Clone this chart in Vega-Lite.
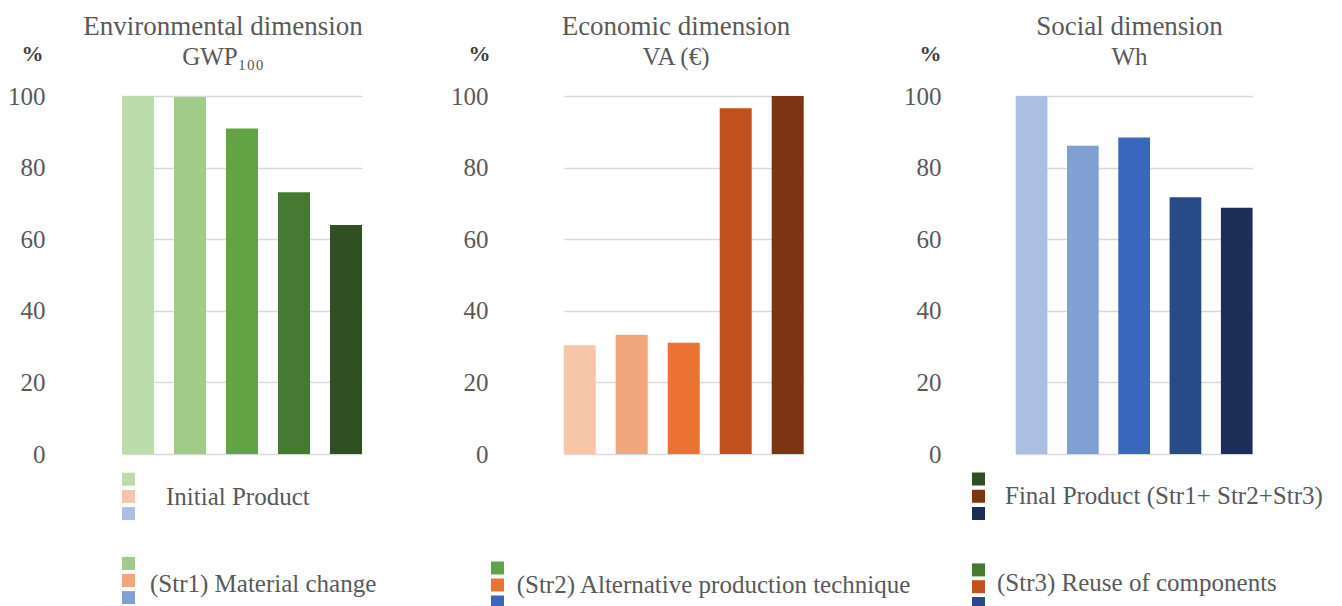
{
  "$schema": "https://vega.github.io/schema/vega-lite/v6.json",
  "background": "#ffffff",
  "padding": {"left": 7, "top": 13, "right": 0, "bottom": 0},
  "bounds": "flush",
  "spacing": 77,
  "config": {
    "view": {"stroke": null},
    "font": "'Liberation Serif', 'Times New Roman', Times, 'DejaVu Serif', serif",
    "axisY": {
      "grid": true,
      "gridColor": "#d9d9d9",
      "gridWidth": 1.5,
      "domain": false,
      "ticks": false,
      "tickSize": 0,
      "labelPadding": 19,
      "labelFontSize": 25,
      "labelFont": "'Liberation Serif', 'Times New Roman', Times, 'DejaVu Serif', serif",
      "labelColor": "#595959",
      "titleAngle": 0,
      "titleX": -32,
      "titleY": -43,
      "titleAlign": "center",
      "titleBaseline": "middle",
      "titleFontSize": 22,
      "titleFontWeight": "bold",
      "titleColor": "#404040",
      "titleFont": "'Liberation Serif', 'Times New Roman', Times, 'DejaVu Serif', serif"
    },
    "title": {
      "font": "'Liberation Serif', 'Times New Roman', Times, 'DejaVu Serif', serif",
      "fontSize": 27,
      "fontWeight": "normal",
      "color": "#595959",
      "subtitleFont": "'Liberation Serif', 'Times New Roman', Times, 'DejaVu Serif', serif",
      "subtitleFontSize": 25,
      "subtitleColor": "#595959",
      "subtitlePadding": 4,
      "anchor": "middle",
      "frame": "group",
      "offset": -29
    },
    "text": {"font": "'Liberation Serif', 'Times New Roman', Times, 'DejaVu Serif', serif", "fontSize": 25, "color": "#595959", "align": "left", "baseline": "middle"},
    "square": {"size": 169, "opacity": 1}
  },
  "datasets": {
    "scores": [
      {"dimension": "Environmental", "scenario": "Initial Product", "value": 100},
      {"dimension": "Environmental", "scenario": "(Str1) Material change", "value": 99.7},
      {"dimension": "Environmental", "scenario": "(Str2) Alternative production technique", "value": 90.9},
      {"dimension": "Environmental", "scenario": "(Str3) Reuse of components", "value": 73.1},
      {"dimension": "Environmental", "scenario": "Final Product (Str1+ Str2+Str3)", "value": 64.0},
      {"dimension": "Economic", "scenario": "Initial Product", "value": 30.4},
      {"dimension": "Economic", "scenario": "(Str1) Material change", "value": 33.3},
      {"dimension": "Economic", "scenario": "(Str2) Alternative production technique", "value": 31.1},
      {"dimension": "Economic", "scenario": "(Str3) Reuse of components", "value": 96.6},
      {"dimension": "Economic", "scenario": "Final Product (Str1+ Str2+Str3)", "value": 100},
      {"dimension": "Social", "scenario": "Initial Product", "value": 100},
      {"dimension": "Social", "scenario": "(Str1) Material change", "value": 86.1},
      {"dimension": "Social", "scenario": "(Str2) Alternative production technique", "value": 88.4},
      {"dimension": "Social", "scenario": "(Str3) Reuse of components", "value": 71.7},
      {"dimension": "Social", "scenario": "Final Product (Str1+ Str2+Str3)", "value": 68.8}
    ]
  },
  "data": {"name": "scores"},
  "hconcat": [
    {
      "width": 366,
      "height": 515,
      "title": {"text": "Environmental dimension", "subtitle": "GWP₁₀₀", "dx": -24},
      "layer": [
        {
          "transform": [{"filter": {"field": "dimension", "equal": "Environmental"}}],
          "mark": "bar",
          "encoding": {
            "x": {"field": "scenario", "type": "nominal", "axis": null,
              "scale": {"domain": ["Initial Product", "(Str1) Material change", "(Str2) Alternative production technique", "(Str3) Reuse of components", "Final Product (Str1+ Str2+Str3)"],
                "range": [58, 298], "paddingInner": 0.3846, "paddingOuter": 0, "round": false}},
            "y": {"field": "value", "type": "quantitative",
              "scale": {"domain": [0, 100], "range": [358, 0], "nice": false},
              "axis": {"title": "%", "values": [0, 20, 40, 60, 80, 100]}},
            "color": {"field": "scenario", "type": "nominal", "legend": null,
              "scale": {"domain": ["Initial Product", "(Str1) Material change", "(Str2) Alternative production technique", "(Str3) Reuse of components", "Final Product (Str1+ Str2+Str3)"],
                "range": ["#bddcab", "#a0cb88", "#62a346", "#467a32", "#305024"]}}
          }
        },
        {
          "transform": [{"filter": {"field": "scenario", "equal": "Initial Product"}}],
          "mark": "square",
          "encoding": {
            "x": {"field": "scenario", "type": "nominal", "axis": null, "scale": {"type": "point", "range": [64.5, 64.5]}},
            "y": {"field": "dimension", "type": "nominal", "axis": null,
              "scale": {"type": "point", "domain": ["Environmental", "Economic", "Social"], "range": [383.2, 417.6], "padding": 0}},
            "color": {"field": "dimension", "type": "nominal", "legend": null,
              "scale": {"domain": ["Environmental", "Economic", "Social"], "range": ["#bddcab", "#f7c6a8", "#aabfe2"]}}
          }
        },
        {
          "transform": [{"filter": {"field": "scenario", "equal": "(Str1) Material change"}}],
          "mark": "square",
          "encoding": {
            "x": {"field": "scenario", "type": "nominal", "axis": null, "scale": {"type": "point", "range": [64.5, 64.5]}},
            "y": {"field": "dimension", "type": "nominal", "axis": null,
              "scale": {"type": "point", "domain": ["Environmental", "Economic", "Social"], "range": [467.4, 501.6], "padding": 0}},
            "color": {"field": "dimension", "type": "nominal", "legend": null,
              "scale": {"domain": ["Environmental", "Economic", "Social"], "range": ["#a0cb88", "#f2a67c", "#80a0d4"]}}
          }
        },
        {
          "transform": [{"filter": {"and": [{"field": "dimension", "equal": "Economic"}, {"field": "scenario", "oneOf": ["Initial Product", "(Str1) Material change"]}]}}],
          "mark": "text",
          "encoding": {
            "text": {"field": "scenario"},
            "x": {"field": "scenario", "type": "nominal", "axis": null,
              "scale": {"type": "point", "domain": ["Initial Product", "(Str1) Material change"], "range": [102, 86], "padding": 0}},
            "y": {"field": "scenario", "type": "nominal", "axis": null,
              "scale": {"type": "point", "domain": ["Initial Product", "(Str1) Material change"], "range": [401, 487.7], "padding": 0}}
          }
        }
      ],
      "resolve": {"scale": {"x": "independent", "y": "independent", "color": "independent"}}
    },
    {
      "width": 376,
      "height": 515,
      "title": {"text": "Economic dimension", "subtitle": "VA (€)", "dx": -19},
      "layer": [
        {
          "transform": [{"filter": {"field": "dimension", "equal": "Economic"}}],
          "mark": "bar",
          "encoding": {
            "x": {"field": "scenario", "type": "nominal", "axis": null,
              "scale": {"domain": ["Initial Product", "(Str1) Material change", "(Str2) Alternative production technique", "(Str3) Reuse of components", "Final Product (Str1+ Str2+Str3)"],
                "range": [56.7, 296.7], "paddingInner": 0.3846, "paddingOuter": 0, "round": false}},
            "y": {"field": "value", "type": "quantitative",
              "scale": {"domain": [0, 100], "range": [358, 0], "nice": false},
              "axis": {"title": "%", "values": [0, 20, 40, 60, 80, 100], "titleX": -28}},
            "color": {"field": "scenario", "type": "nominal", "legend": null,
              "scale": {"domain": ["Initial Product", "(Str1) Material change", "(Str2) Alternative production technique", "(Str3) Reuse of components", "Final Product (Str1+ Str2+Str3)"],
                "range": ["#f7c6a8", "#f2a67c", "#eb7233", "#c2501c", "#7b3414"]}}
          }
        },
        {
          "transform": [{"filter": {"field": "scenario", "equal": "(Str2) Alternative production technique"}}],
          "mark": "square",
          "encoding": {
            "x": {"field": "scenario", "type": "nominal", "axis": null, "scale": {"type": "point", "range": [-9.5, -9.5]}},
            "y": {"field": "dimension", "type": "nominal", "axis": null,
              "scale": {"type": "point", "domain": ["Environmental", "Economic", "Social"], "range": [472, 506], "padding": 0}},
            "color": {"field": "dimension", "type": "nominal", "legend": null,
              "scale": {"domain": ["Environmental", "Economic", "Social"], "range": ["#62a346", "#eb7233", "#3a67bb"]}}
          }
        },
        {
          "transform": [{"filter": {"and": [{"field": "dimension", "equal": "Economic"}, {"field": "scenario", "equal": "(Str2) Alternative production technique"}]}}],
          "mark": "text",
          "encoding": {
            "text": {"field": "scenario"},
            "x": {"field": "scenario", "type": "nominal", "axis": null,
              "scale": {"type": "point", "range": [9.7, 9.7]}},
            "y": {"field": "scenario", "type": "nominal", "axis": null,
              "scale": {"type": "point", "range": [489, 489]}}
          }
        }
      ],
      "resolve": {"scale": {"x": "independent", "y": "independent", "color": "independent"}}
    },
    {
      "width": 377,
      "height": 515,
      "title": {"text": "Social dimension", "subtitle": "Wh", "dx": -19},
      "layer": [
        {
          "transform": [{"filter": {"field": "dimension", "equal": "Social"}}],
          "mark": "bar",
          "encoding": {
            "x": {"field": "scenario", "type": "nominal", "axis": null,
              "scale": {"domain": ["Initial Product", "(Str1) Material change", "(Str2) Alternative production technique", "(Str3) Reuse of components", "Final Product (Str1+ Str2+Str3)"],
                "range": [55.7, 292.6], "paddingInner": 0.382, "paddingOuter": 0, "round": false}},
            "y": {"field": "value", "type": "quantitative",
              "scale": {"domain": [0, 100], "range": [358, 0], "nice": false},
              "axis": {"title": "%", "values": [0, 20, 40, 60, 80, 100], "titleX": -30}},
            "color": {"field": "scenario", "type": "nominal", "legend": null,
              "scale": {"domain": ["Initial Product", "(Str1) Material change", "(Str2) Alternative production technique", "(Str3) Reuse of components", "Final Product (Str1+ Str2+Str3)"],
                "range": ["#aabfe2", "#80a0d4", "#3a67bb", "#284b88", "#1d2e56"]}}
          }
        },
        {
          "transform": [{"filter": {"field": "scenario", "equal": "Final Product (Str1+ Str2+Str3)"}}],
          "mark": "square",
          "encoding": {
            "x": {"field": "scenario", "type": "nominal", "axis": null, "scale": {"type": "point", "range": [18.5, 18.5]}},
            "y": {"field": "dimension", "type": "nominal", "axis": null,
              "scale": {"type": "point", "domain": ["Environmental", "Economic", "Social"], "range": [383, 417.5], "padding": 0}},
            "color": {"field": "dimension", "type": "nominal", "legend": null,
              "scale": {"domain": ["Environmental", "Economic", "Social"], "range": ["#305024", "#7b3414", "#1d2e56"]}}
          }
        },
        {
          "transform": [{"filter": {"field": "scenario", "equal": "(Str3) Reuse of components"}}],
          "mark": "square",
          "encoding": {
            "x": {"field": "scenario", "type": "nominal", "axis": null, "scale": {"type": "point", "range": [18.5, 18.5]}},
            "y": {"field": "dimension", "type": "nominal", "axis": null,
              "scale": {"type": "point", "domain": ["Environmental", "Economic", "Social"], "range": [473.9, 507.5], "padding": 0}},
            "color": {"field": "dimension", "type": "nominal", "legend": null,
              "scale": {"domain": ["Environmental", "Economic", "Social"], "range": ["#467a32", "#c2501c", "#284b88"]}}
          }
        },
        {
          "transform": [{"filter": {"and": [{"field": "dimension", "equal": "Economic"}, {"field": "scenario", "oneOf": ["Final Product (Str1+ Str2+Str3)", "(Str3) Reuse of components"]}]}}],
          "mark": "text",
          "encoding": {
            "text": {"field": "scenario"},
            "x": {"field": "scenario", "type": "nominal", "axis": null,
              "scale": {"type": "point", "domain": ["Final Product (Str1+ Str2+Str3)", "(Str3) Reuse of components"], "range": [45, 37], "padding": 0}},
            "y": {"field": "scenario", "type": "nominal", "axis": null,
              "scale": {"type": "point", "domain": ["Final Product (Str1+ Str2+Str3)", "(Str3) Reuse of components"], "range": [400, 486.7], "padding": 0}}
          }
        }
      ],
      "resolve": {"scale": {"x": "independent", "y": "independent", "color": "independent"}}
    }
  ]
}
